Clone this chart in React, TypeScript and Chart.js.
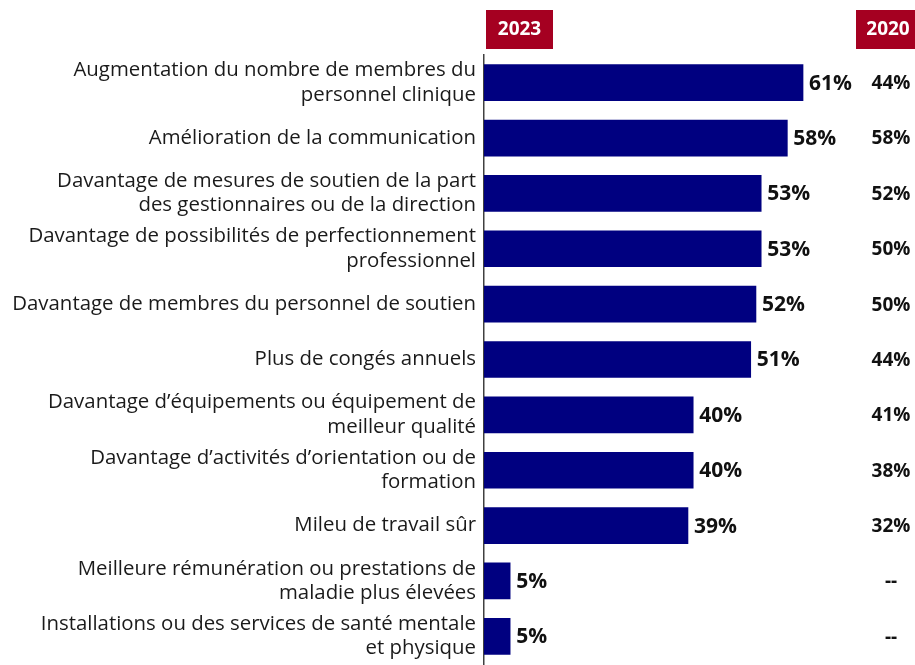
import React, { useEffect, useRef } from "react";
import { Chart, registerables } from "chart.js";

Chart.register(...registerables);

const categories: (string | string[])[] = [
  ["Augmentation du nombre de membres du", "personnel clinique"],
  "Amélioration de la communication",
  ["Davantage de mesures de soutien de la part", "des gestionnaires ou de la direction"],
  ["Davantage de possibilités de perfectionnement", "professionnel"],
  "Davantage de membres du personnel de soutien",
  "Plus de congés annuels",
  ["Davantage d’équipements ou équipement de", "meilleur qualité"],
  ["Davantage d’activités d’orientation ou de", "formation"],
  "Mileu de travail sûr",
  ["Meilleure rémunération ou prestations de", "maladie plus élevées"],
  ["Installations ou des services de santé mentale", "et physique"],
];

const values2023: number[] = [61, 58, 53, 53, 52, 51, 40, 40, 39, 5, 5];
const values2020: (number | null)[] = [44, 58, 52, 50, 50, 44, 41, 38, 32, null, null];

const header2023 = "2023";
const header2020 = "2020";

const FONT = "'Open Sans', 'Noto Sans', sans-serif";
const NAVY = "#000080";
const RED = "#A50021";

const labelsPlugin = {
  id: "customLabels",
  afterDraw(chart: any) {
    const ctx = chart.ctx;
    const area = chart.chartArea;
    const meta = chart.getDatasetMeta(0);
    ctx.save();
    // header boxes
    ctx.fillStyle = RED;
    ctx.fillRect(area.left + 2, 10, 67, 39);
    ctx.fillRect(856, 10, 70, 39);
    ctx.fillStyle = "#ffffff";
    ctx.font = `bold 19px ${FONT}`;
    ctx.textAlign = "center";
    ctx.textBaseline = "middle";
    ctx.fillText(header2023, area.left + 35.5, 30);
    ctx.fillText(header2020, 888, 30);

    meta.data.forEach((bar: any, i: number) => {
      ctx.fillStyle = "#111111";
      ctx.font = `bold 21px ${FONT}`;
      ctx.textAlign = "left";
      ctx.textBaseline = "middle";
      ctx.fillText(`${values2023[i]}%`, bar.x + 6, bar.y + 1);
      const v = values2020[i];
      ctx.font = `bold 19px ${FONT}`;
      ctx.textAlign = "center";
      ctx.fillText(v === null ? "--" : `${v}%`, 891, bar.y + 1);
    });
    ctx.restore();
  },
};

export default function App() {
  const ref = useRef<HTMLCanvasElement | null>(null);
  useEffect(() => {
    if (!ref.current) return;
    const chart = new Chart(ref.current, {
      type: "bar",
      data: {
        labels: categories,
        datasets: [
          {
            label: "2023",
            data: values2023,
            backgroundColor: NAVY,
            borderWidth: 0,
            barThickness: 36,
          },
        ],
      },
      options: {
        indexAxis: "y",
        responsive: false,
        animation: false,
        layout: { padding: { left: 0, right: 12.6, top: 55, bottom: 1 } },
        plugins: {
          legend: { display: false },
          tooltip: { enabled: false },
        },
        scales: {
          x: {
            display: false,
            min: 0,
            max: 80,
          },
          y: {
            afterFit: (scale: any) => {
              scale.width = 484;
              scale.paddingTop = 0;
              scale.paddingBottom = 0;
            },
            grid: { display: false, drawTicks: false },
            border: { display: true, color: "#404040", width: 1.5 },
            ticks: {
              autoSkip: false,
              padding: 8,
              color: "#1a1a1a",
              font: { family: FONT, size: 20.4, lineHeight: 1.2 },
            },
          },
        },
      },
      plugins: [labelsPlugin],
    });
    return () => chart.destroy();
  }, []);
  return (
    <div style={{ position: "fixed", left: 0, top: 0, width: 915, height: 665, background: "#fff" }}>
      <canvas ref={ref} width={915} height={665} style={{ display: "block" }} />
    </div>
  );
}
